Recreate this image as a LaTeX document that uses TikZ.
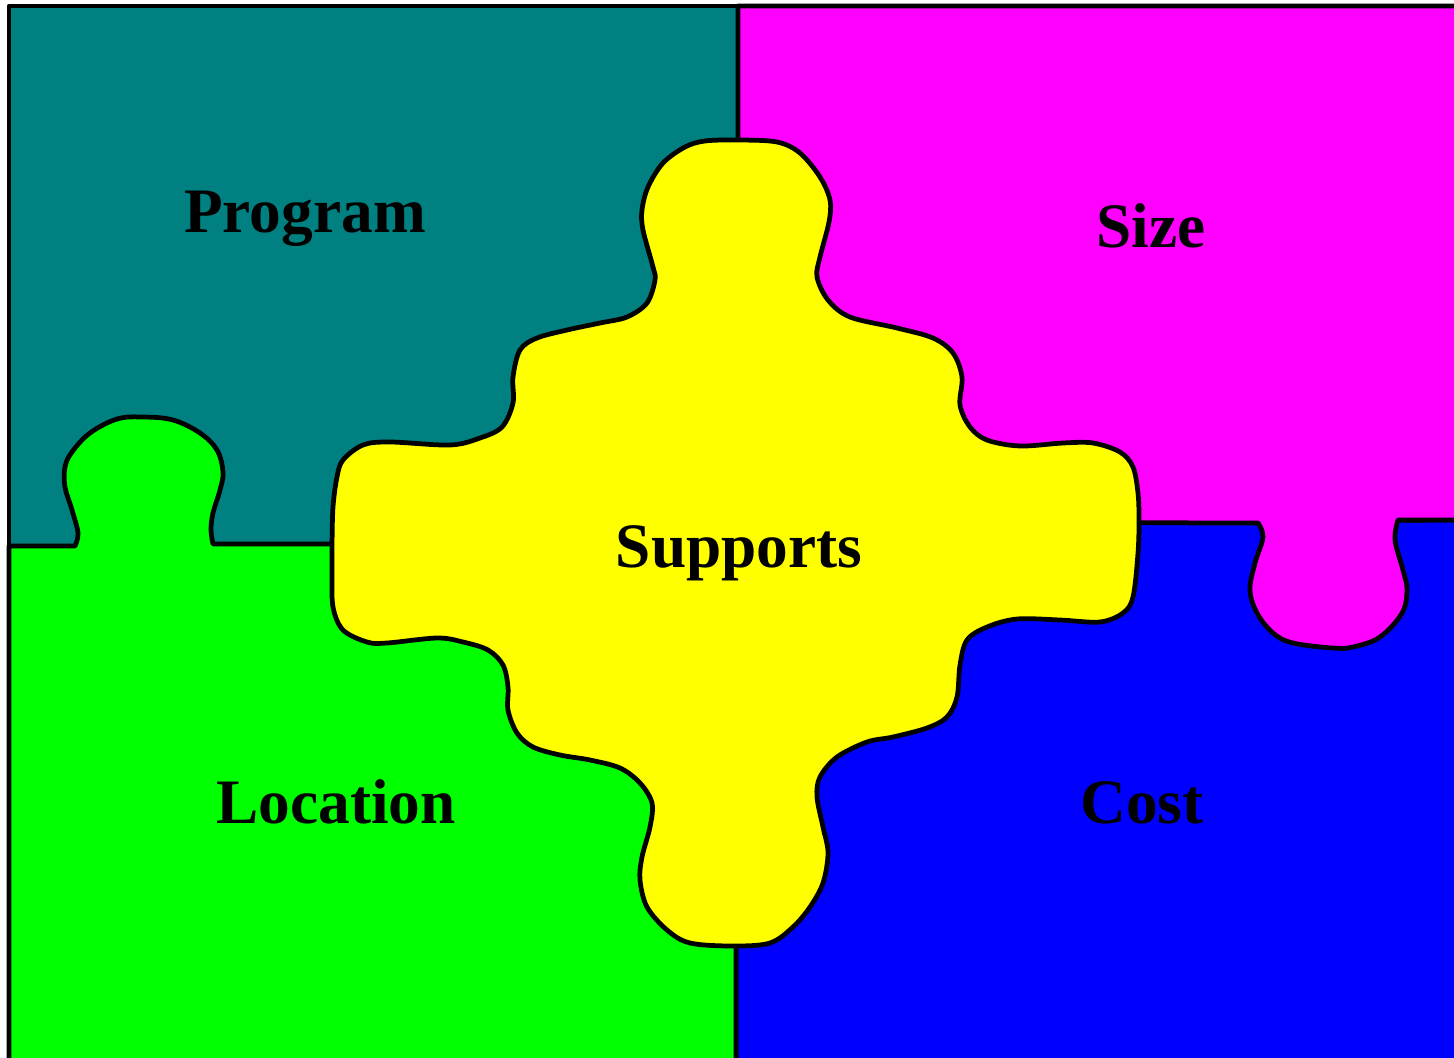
\documentclass[tikz,border=0pt]{standalone}
\usepackage{fontspec}
\setmainfont{Liberation Serif}
\definecolor{pteal}{HTML}{008080}
\definecolor{pmag}{HTML}{FF00FF}
\definecolor{pgreen}{HTML}{00FF00}
\definecolor{pblue}{HTML}{0000FF}
\definecolor{pyellow}{HTML}{FFFF00}
\tikzset{
  piece/.style={draw=black, line width=1.35pt, line join=round},
  lbl/.style={font=\fontsize{18}{20}\selectfont\bfseries, anchor=base, inner sep=0pt}
}
\begin{document}
\begin{tikzpicture}[x=0.01cm, y=-0.01cm]
\useasboundingbox (0,0) rectangle (1454,1057);
\clip (0,0) rectangle (1454,1057);
% teal (Program)
\path[piece, fill=pteal] (9,6) -- (738,6) -- (738,546) -- (9,546) -- cycle;
% blue (Cost)
\path[piece, fill=pblue] (736,522) -- (1470,520) -- (1470,1070) -- (736,1070) -- cycle;
% green (Location)
\path[piece, fill=pgreen] (9,546) -- plot[smooth, tension=0.6] coordinates {(75,546) (78,533) (72,510) (65,487) (65,467) (72,452) (90,433) (117,419) (143,417) (173,420) (200,433) (217,450) (223,472) (220,490) (213,513) (211,530) (213,544)} -- (736,544) -- (736,1070) -- (9,1070) -- cycle;
% magenta (Size)
\path[piece, fill=pmag] (738,6) -- (1470,6) -- (1470,520) -- plot[smooth, tension=0.6] coordinates {(1398,520) (1395,540) (1403,570) (1407,590) (1402,613) (1380,637) (1353,647) (1333,648) (1293,643) (1273,633) (1257,613) (1250,590) (1255,563) (1263,537) (1258,523)} -- (738,522) -- cycle;
% yellow (Supports)
\path[piece, fill=pyellow] plot[smooth cycle, tension=0.55] coordinates {
(738,140) (777,142) (800,153) (820,177) (830,200) (829,222) (820,257) (817,277) (828,300) (850,317) (897,328) (933,338) (953,353) (962,377) (960,405) (970,427) (987,440) (1020,446) (1063,443) (1093,443) (1120,452) (1133,467) (1138,493) (1139,520) (1138,553) (1133,597) (1123,613) (1100,622) (1060,620) (1017,619) (987,627) (967,640) (960,665) (957,697) (947,717) (927,728) (893,737) (867,742) (837,757) (820,777) (817,797) (823,827) (828,853) (823,883) (810,907) (793,927) (770,943) (733,946) (690,943) (667,930) (647,907) (640,880) (642,857) (650,827) (652,803) (640,783) (620,768) (590,760) (560,755) (533,747) (517,733) (508,710) (508,687) (503,665) (488,650) (463,642) (437,638) (387,643) (367,642) (343,630) (333,607) (332,573) (332,547) (333,507) (337,477) (343,460) (363,445) (390,442) (450,445) (480,438) (502,427) (513,403) (513,377) (520,350) (537,338) (567,330) (600,323) (627,317) (647,303) (655,280) (653,267) (643,230) (642,210) (648,187) (663,163) (685,147) (705,141)};
% labels
\node[lbl] (program) at (305,232) {Program};
\node[lbl] (size) at (1151,247) {Size};
\node[lbl] (supports) at (739,567) {Supports};
\node[lbl] (location) at (336,823) {Location};
\node[lbl] (cost) at (1142,823) {Cost};
\end{tikzpicture}
\end{document}
